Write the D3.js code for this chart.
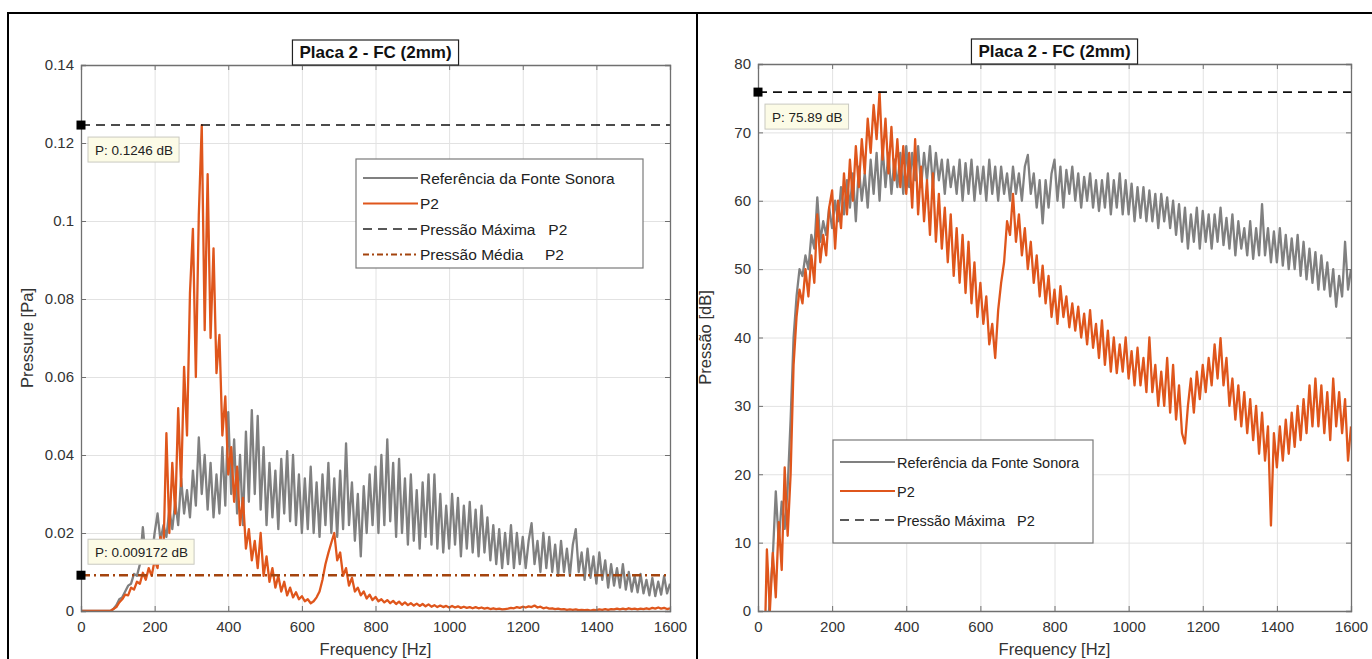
<!DOCTYPE html>
<html>
<head>
<meta charset="utf-8">
<script src="https://cdn.jsdelivr.net/npm/d3@7"></script>
<style>
  body { margin: 0; background: #fff; }
  text { font-family: "Liberation Sans", Arial, Helvetica, sans-serif; }
</style>
</head>
<body>
<svg id="fig" width="1372" height="659"></svg>
<script>
// frequency bins (Hz), one every 8 Hz
const freqStep = 8;
const freq = d3.range(0, 1601, freqStep);

// Referência da Fonte Sonora, pressure [Pa]
const refPa = [
  0,0,0,0,0,0,0,0,0,0, 0,0.0005,0.0015,0.003,0.0035,0.005,0.0065,0.007,0.0095,0.009,
  0.012,0.0215,0.013,0.016,0.014,0.02,0.025,0.018,0.022,0.019, 0.026,0.021,0.028,0.022,0.034,0.025,0.031,0.024,0.036,0.027,
  0.0445,0.03,0.04,0.026,0.038,0.024,0.035,0.025,0.042,0.027, 0.051,0.03,0.044,0.025,0.04,0.022,0.046,0.028,0.0515,0.03,
  0.05,0.026,0.042,0.022,0.038,0.024,0.036,0.021,0.039,0.025, 0.041,0.023,0.04,0.022,0.035,0.02,0.034,0.021,0.037,0.02,
  0.033,0.019,0.035,0.022,0.038,0.02,0.034,0.019,0.036,0.021, 0.043,0.022,0.033,0.018,0.03,0.014,0.032,0.02,0.035,0.022,
  0.037,0.02,0.04,0.022,0.044,0.023,0.038,0.019,0.039,0.02, 0.034,0.017,0.035,0.018,0.031,0.016,0.033,0.019,0.035,0.017,
  0.035,0.016,0.03,0.015,0.027,0.016,0.03,0.017,0.029,0.014, 0.027,0.016,0.028,0.015,0.026,0.014,0.027,0.015,0.024,0.013,
  0.022,0.012,0.021,0.011,0.02,0.012,0.022,0.011,0.02,0.012, 0.019,0.011,0.018,0.0225,0.012,0.018,0.01,0.02,0.011,0.019,
  0.01,0.017,0.009,0.018,0.01,0.016,0.009,0.017,0.021,0.01, 0.015,0.008,0.016,0.0085,0.014,0.007,0.015,0.008,0.013,0.006,
  0.012,0.0065,0.011,0.006,0.012,0.0055,0.01,0.005,0.009,0.0048, 0.0095,0.0045,0.008,0.004,0.0085,0.0038,0.0075,0.0042,0.009,0.0045,
  0.007
];

// P2, pressure [Pa]
const p2Pa = [
  0,0,0,0,0,0,0,0,0,0, 0,0.0005,0.001,0.0022,0.003,0.0042,0.004,0.006,0.0055,0.0075,
  0.007,0.0098,0.008,0.011,0.009,0.013,0.011,0.019,0.015,0.0456, 0.02,0.038,0.025,0.052,0.032,0.0626,0.045,0.0815,0.098,0.06,
  0.1015,0.1246,0.072,0.112,0.07,0.093,0.061,0.0708,0.045,0.055, 0.035,0.042,0.028,0.037,0.022,0.029,0.016,0.021,0.013,0.018,
  0.011,0.02,0.009,0.014,0.0075,0.011,0.006,0.009,0.005,0.0075, 0.004,0.006,0.0035,0.0048,0.003,0.0038,0.0025,0.003,0.002,0.0025,
  0.0035,0.005,0.008,0.012,0.0149,0.0175,0.02,0.013,0.015,0.009, 0.011,0.0065,0.0085,0.005,0.006,0.004,0.005,0.0032,0.0042,0.0028,
  0.0036,0.0025,0.003,0.0022,0.0028,0.002,0.0026,0.0018,0.0024,0.0016, 0.0022,0.0015,0.002,0.0014,0.0019,0.0013,0.0018,0.0012,0.0017,0.0011,
  0.0015,0.001,0.0014,0.001,0.0013,0.0009,0.0013,0.0009,0.0012,0.0008, 0.0011,0.0008,0.001,0.0007,0.001,0.0007,0.0009,0.0006,0.0008,0.0005,
  0.0007,0.0005,0.0006,0.0004,0.0005,0.0006,0.0008,0.0007,0.001,0.0008, 0.0011,0.0009,0.0012,0.001,0.0014,0.0009,0.0011,0.0007,0.0009,0.0006,
  0.0007,0.0005,0.0006,0.0004,0.0005,0.0003,0.0004,0.0003,0.0004,0.0002, 0.0003,0.0002,0.0003,0.0001,0.0003,0.0002,0.0004,0.0003,0.0005,0.0003,
  0.0005,0.0004,0.0006,0.0004,0.0006,0.0004,0.0007,0.0005,0.0006,0.0004, 0.0006,0.0005,0.0007,0.0005,0.0008,0.0006,0.0009,0.0006,0.0008,0.0005,
  0.0007
];

// Referência da Fonte Sonora, level [dB]
const refDb = [
  -20,-15,-10,-5,2,8,17.5,10,16,12, 18,28,40,46,50,49,52,50,55,53,
  60.5,54,57,55,59,56,60,57,62,58, 63,59,64,57,65,60,64,59,66,61,
  67,60,68,62,67,61,66,62,67,61, 68,62,67,63,68,62,67,63,68,62,
  67,63,66,61,66,62,65,61,66,60, 65.5,61,66,60,65,61,65,60,66,61,
  65,60,65,61,64,60,65,61,64,60, 65,66.7,61,64,59,63,56.7,63,59,64,
  66,60,65,59,64.5,61,65,60,64,59, 63.5,60,64,59,63,58.5,63,59,64,58,
  63,59,64,58,63,58,62.5,57,62,57.5, 62,57,61.5,57,61,56,61,57,60.5,56,
  60,55,59.5,54,59,53,58,54,59,53, 58.5,54,58,53,58,54,59,53.5,57.5,53,
  58,52,57,53,56,52,57,51.5,56,52, 59.5,52,56,51,55.5,51,56,50.5,55,50,
  54.5,50,55,49,54,48.5,53,48,52.5,47, 52,47,51,46,50,44.5,49,46,54,47,
  50
];

// P2, level [dB]
const p2Db = [
  -20,-20,-10,9,0,8.5,2,13,6,21, 11,20,36,43,47,45,50,46,52,48,
  58,51,55,52,59,61.5,53,60,56,64, 58,66,60,68,62,69,64,72,67,74,
  69,75.89,66,72,64,70.8,63,69,62,68, 61,67,59,69,58,65,57,63,55,64,
  54,61,53,59,51,58,49,56,48,55, 46.5,54,45,51,43,48,42,46,39,42,
  37,44,48,51,57,55,61,54,58,52, 56,50,54,48,52,46,50.5,45,49,43,
  47,42,47.5,43,46,41.5,45,41,44.5,40, 43.5,39,44,38.5,42,37,42.5,36,41,35,
  40,34.8,39,35,40,34,38,33,38.5,33, 37,32,40,32,36,30,35,30,37,29,
  36,28,33,26,24.5,30,34,29,35,31, 36,32,37,33,39,34,39.9,33,37,30,
  34,28,33,27,32,26,31,25,30,23, 29,22,27,12.5,26,21,27,22,28,23,
  29,24,30,25,31,26,33,27,34,27, 33,26,32,25,34,27,32,26,31,22,
  27
];

const maxPa = 0.1246;
const meanPa = 0.009172;
const maxDb = 75.89;

const xTicks = [0, 200, 400, 600, 800, 1000, 1200, 1400, 1600];
const yTicksPa = [0, 0.02, 0.04, 0.06, 0.08, 0.1, 0.12, 0.14];
const yTicksDb = [0, 10, 20, 30, 40, 50, 60, 70, 80];

const chartTitle = "Placa 2 - FC (2mm)";
const xLabel = "Frequency [Hz]";
const legendLeft = ["Referência da Fonte Sonora", "P2", "Pressão Máxima   P2", "Pressão Média     P2"];
const legendRight = ["Referência da Fonte Sonora", "P2", "Pressão Máxima   P2"];

const colRef = "#808080";
const colP2 = "#df561c";
const colMean = "#a4440e";

const svg = d3.select("#fig");

// outer table frame (right edge of the page is cropped)
svg.append("g")
  .attr("stroke", "#000")
  .attr("stroke-width", 2)
  .selectAll("line")
  .data([[7, 13, 1372, 13], [8, 13, 8, 659], [697, 13, 697, 659]])
  .join("line")
  .attr("x1", d => d[0]).attr("y1", d => d[1])
  .attr("x2", d => d[2]).attr("y2", d => d[3]);

function drawPanel(cfg) {
  const x = d3.scaleLinear().domain([0, 1600]).range([cfg.left, cfg.right]);
  const y = d3.scaleLinear().domain(cfg.yDomain).range([cfg.bottom, cfg.top]);
  const g = svg.append("g");

  g.append("clipPath").attr("id", cfg.id + "-clip")
    .append("rect")
    .attr("x", cfg.left).attr("y", cfg.top)
    .attr("width", cfg.right - cfg.left).attr("height", cfg.bottom - cfg.top);

  // grid
  g.append("g")
    .attr("transform", `translate(0,${cfg.bottom})`)
    .call(d3.axisBottom(x).tickValues(xTicks).tickSize(-(cfg.bottom - cfg.top)).tickFormat(""))
    .call(a => a.select(".domain").remove())
    .call(a => a.selectAll("line").attr("stroke", "#e2e2e2"));
  g.append("g")
    .attr("transform", `translate(${cfg.left},0)`)
    .call(d3.axisLeft(y).tickValues(cfg.yTicks).tickSize(-(cfg.right - cfg.left)).tickFormat(""))
    .call(a => a.select(".domain").remove())
    .call(a => a.selectAll("line").attr("stroke", "#e2e2e2"));

  // data lines
  const line = d3.line().x((d, i) => x(freq[i])).y(d => y(d));
  const plot = g.append("g").attr("clip-path", `url(#${cfg.id}-clip)`);
  plot.append("path").datum(cfg.ref)
    .attr("d", line).attr("fill", "none")
    .attr("stroke", colRef).attr("stroke-width", 2.3).attr("stroke-linejoin", "round");
  plot.append("path").datum(cfg.p2)
    .attr("d", line).attr("fill", "none")
    .attr("stroke", colP2).attr("stroke-width", 2.3).attr("stroke-linejoin", "round");

  plot.append("line")
    .attr("x1", cfg.left).attr("x2", cfg.right)
    .attr("y1", y(cfg.max)).attr("y2", y(cfg.max))
    .attr("stroke", "#111").attr("stroke-width", 1.6).attr("stroke-dasharray", "9,6");
  if (cfg.mean != null) {
    plot.append("line")
      .attr("x1", cfg.left).attr("x2", cfg.right)
      .attr("y1", y(cfg.mean)).attr("y2", y(cfg.mean))
      .attr("stroke", colMean).attr("stroke-width", 2.4).attr("stroke-dasharray", "9,4,2,4");
  }

  // axes box with inward ticks
  const tickCol = "#707070";
  g.append("g").attr("transform", `translate(0,${cfg.bottom})`)
    .call(d3.axisBottom(x).tickValues(xTicks).tickSize(-5).tickPadding(10).tickFormat(d3.format("d")))
    .call(a => a.select(".domain").attr("stroke", tickCol).attr("stroke-width", 1.3))
    .call(a => a.selectAll("line").attr("stroke", tickCol))
    .call(a => a.selectAll("text").attr("fill", "#333").attr("font-size", 15).attr("font-family", null));
  g.append("g").attr("transform", `translate(0,${cfg.top})`)
    .call(d3.axisTop(x).tickValues(xTicks).tickSize(-5).tickFormat(""))
    .call(a => a.select(".domain").attr("stroke", tickCol).attr("stroke-width", 1.3))
    .call(a => a.selectAll("line").attr("stroke", tickCol));
  g.append("g").attr("transform", `translate(${cfg.left},0)`)
    .call(d3.axisLeft(y).tickValues(cfg.yTicks).tickSize(-5).tickPadding(7).tickFormat(d => String(d)))
    .call(a => a.select(".domain").attr("stroke", tickCol).attr("stroke-width", 1.3))
    .call(a => a.selectAll("line").attr("stroke", tickCol))
    .call(a => a.selectAll("text").attr("fill", "#333").attr("font-size", 15).attr("font-family", null));
  g.append("g").attr("transform", `translate(${cfg.right},0)`)
    .call(d3.axisRight(y).tickValues(cfg.yTicks).tickSize(-5).tickFormat(""))
    .call(a => a.select(".domain").attr("stroke", tickCol).attr("stroke-width", 1.3))
    .call(a => a.selectAll("line").attr("stroke", tickCol));

  // axis labels
  g.append("text")
    .attr("x", (cfg.left + cfg.right) / 2).attr("y", 655)
    .attr("text-anchor", "middle").attr("font-size", 16.5).attr("fill", "#333")
    .text(xLabel);
  g.append("text")
    .attr("transform", `translate(${cfg.yLabelX},${(cfg.top + cfg.bottom) / 2}) rotate(-90)`)
    .attr("text-anchor", "middle").attr("font-size", 16.5).attr("fill", "#333")
    .text(cfg.yLabel);

  // title box
  const cx = (cfg.left + cfg.right) / 2;
  const tb = g.append("g");
  const tr = tb.append("rect").attr("fill", "#fff").attr("stroke", "#222").attr("stroke-width", 1.2);
  const tt = tb.append("text")
    .attr("x", cx).attr("y", cfg.top - 7)
    .attr("text-anchor", "middle").attr("font-size", 17).attr("font-weight", "bold").attr("fill", "#111")
    .text(chartTitle);
  const tw = tt.node().getComputedTextLength();
  tr.attr("x", cx - tw / 2 - 7).attr("y", cfg.top - 25).attr("width", tw + 14).attr("height", 25);

  // data tips
  cfg.tips.forEach(t => {
    const ty = y(t.value);
    g.append("rect")
      .attr("x", cfg.left - 4.5).attr("y", ty - 4.5).attr("width", 9).attr("height", 9)
      .attr("fill", "#000");
    const by = t.above ? ty - 36 : ty + 12;
    const br = g.append("rect").attr("fill", "#fcfbe6").attr("stroke", "#c9c9c0");
    const bt = g.append("text")
      .attr("x", cfg.left + 14).attr("y", by + 18)
      .attr("font-size", 13.5).attr("fill", "#222")
      .text(t.label);
    const bw = bt.node().getComputedTextLength();
    br.attr("x", cfg.left + 7).attr("y", by).attr("width", bw + 13).attr("height", 25);
  });

  // legend
  const L = cfg.legend;
  const lg = g.append("g");
  lg.append("rect")
    .attr("x", L.x).attr("y", L.y).attr("width", L.w).attr("height", L.h)
    .attr("fill", "#fff").attr("stroke", "#7a7a7a").attr("stroke-width", 1.2);
  const styles = [
    { c: colRef, d: null, w: 2.2 },
    { c: colP2, d: null, w: 2.2 },
    { c: "#222", d: "9,6", w: 1.6 },
    { c: colMean, d: "6,3,2,3", w: 2.2 }
  ];
  L.labels.forEach((lab, i) => {
    const ry = L.y + L.first + i * L.step;
    const s = styles[i];
    lg.append("line")
      .attr("x1", L.x + 7).attr("x2", L.x + L.lineLen).attr("y1", ry).attr("y2", ry)
      .attr("stroke", s.c).attr("stroke-width", s.w).attr("stroke-dasharray", s.d);
    lg.append("text")
      .attr("x", L.x + L.lineLen + 2).attr("y", ry + 5.5)
      .attr("font-size", L.font).attr("fill", "#222")
      .style("white-space", "pre")
      .text(lab);
  });
}

drawPanel({
  id: "pa", left: 81, right: 670, top: 65, bottom: 611,
  yDomain: [0, 0.14], yTicks: yTicksPa, yLabel: "Pressure [Pa]", yLabelX: 33,
  ref: refPa, p2: p2Pa, max: maxPa, mean: meanPa,
  tips: [
    { value: maxPa, label: "P: 0.1246 dB", above: false },
    { value: meanPa, label: "P: 0.009172 dB", above: true }
  ],
  legend: { x: 356, y: 159, w: 287, h: 109, first: 19, step: 25.5, lineLen: 62, font: 15.5, labels: legendLeft }
});

drawPanel({
  id: "db", left: 758, right: 1351, top: 64, bottom: 611,
  yDomain: [0, 80], yTicks: yTicksDb, yLabel: "Pressão [dB]", yLabelX: 711,
  ref: refDb, p2: p2Db, max: maxDb, mean: null,
  tips: [
    { value: maxDb, label: "P: 75.89 dB", above: false }
  ],
  legend: { x: 833, y: 440, w: 260, h: 103, first: 22, step: 29, lineLen: 62, font: 14.5, labels: legendRight }
});
</script>
</body>
</html>
